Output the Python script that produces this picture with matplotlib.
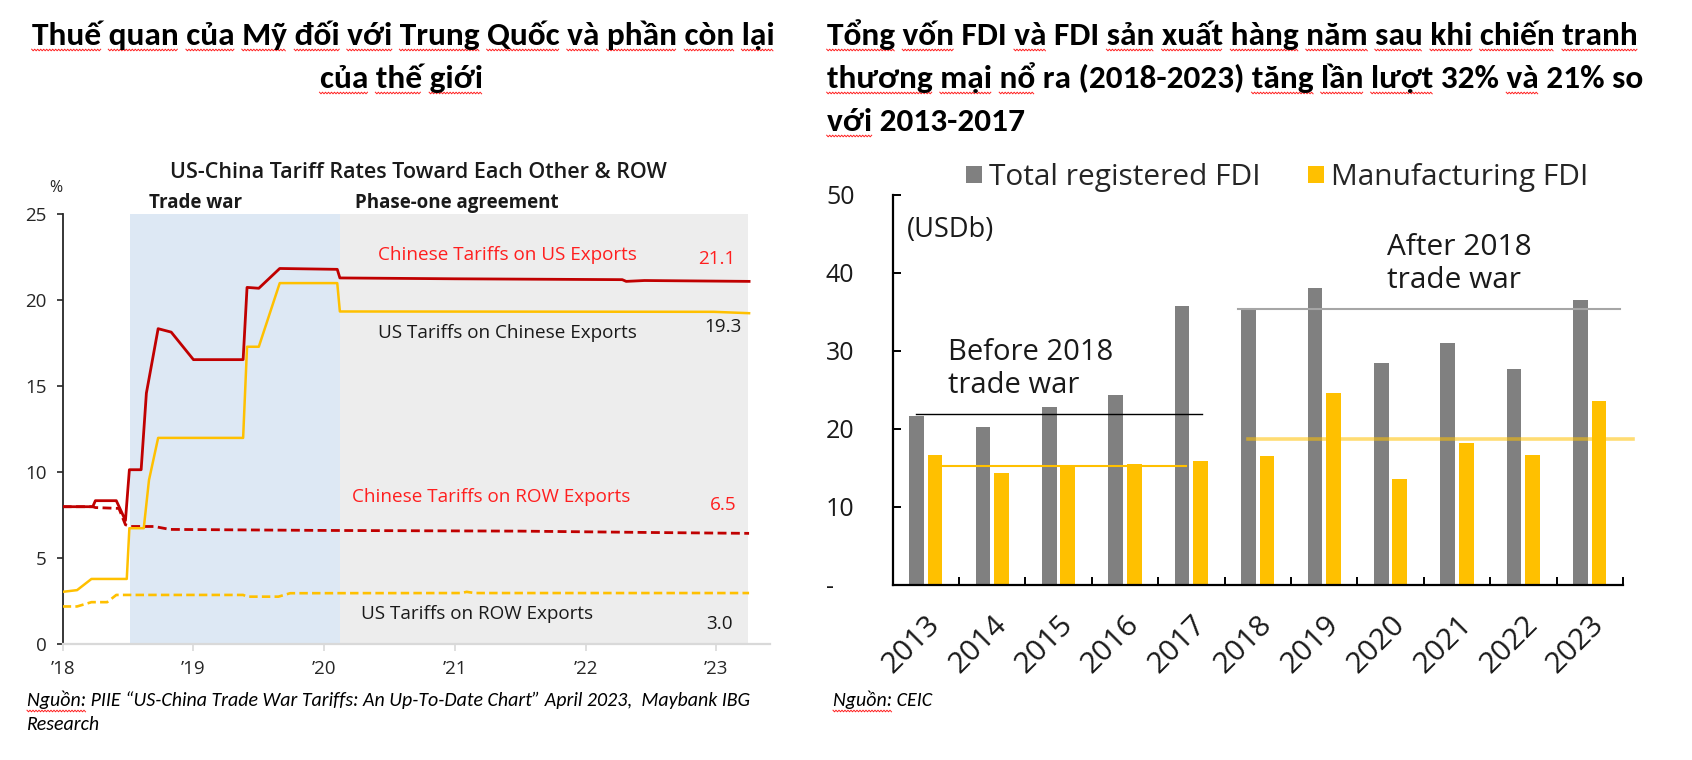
import matplotlib
matplotlib.use("Agg")
import matplotlib.pyplot as plt
from matplotlib.font_manager import FontProperties
from matplotlib.lines import Line2D
import numpy as np

# ---- left chart data (PIIE tariff rates, %) ----
cn_us_t = [2018.00, 2018.23, 2018.25, 2018.41, 2018.48, 2018.51, 2018.60, 2018.64, 2018.73, 2018.83,
           2019.00, 2019.38, 2019.41, 2019.50, 2019.66, 2020.10, 2020.12, 2021.00, 2022.28, 2022.31,
           2022.45, 2023.25]
cn_us = [8.0, 8.0, 8.35, 8.35, 7.2, 10.15, 10.15, 14.6, 18.35, 18.15,
         16.55, 16.55, 20.75, 20.7, 21.85, 21.8, 21.3, 21.25, 21.2, 21.1,
         21.15, 21.1]

cn_row_t = [2018.00, 2018.23, 2018.25, 2018.43, 2018.48, 2018.52, 2018.70, 2018.82, 2020.00, 2021.50,
            2022.50, 2023.25]
cn_row = [8.0, 8.0, 7.95, 7.9, 6.95, 6.85, 6.85, 6.68, 6.62, 6.58, 6.5, 6.45]

us_cn_t = [2018.00, 2018.11, 2018.22, 2018.49, 2018.51, 2018.62, 2018.66, 2018.73, 2019.38, 2019.41,
           2019.50, 2019.66, 2020.10, 2020.12, 2022.98, 2023.25]
us_cn = [3.05, 3.15, 3.8, 3.8, 6.75, 6.75, 9.55, 12.0, 12.0, 17.3,
         17.3, 21.0, 21.0, 19.35, 19.33, 19.25]

us_row_t = [2018.00, 2018.11, 2018.22, 2018.34, 2018.41, 2019.38, 2019.41, 2019.65, 2019.74, 2021.05,
            2021.09, 2021.15, 2023.25]
us_row = [2.2, 2.2, 2.45, 2.45, 2.87, 2.87, 2.77, 2.77, 2.97, 2.98, 3.05, 2.98, 2.98]

trade_war = (2018.515, 2020.12)
phase_one = (2020.12, 2023.245)
year_ticks = [2018, 2019, 2020, 2021, 2022, 2023]
year_labels = ["\u201918", "\u201919", "\u201920", "\u201921", "\u201922", "\u201923"]

# ---- right chart data (CEIC, USD bn) ----
fdi_years = ["2013", "2014", "2015", "2016", "2017", "2018", "2019", "2020", "2021", "2022", "2023"]
total_fdi = [21.7, 20.25, 22.8, 24.4, 35.8, 35.3, 38.1, 28.5, 31.0, 27.65, 36.6]
manuf_fdi = [16.7, 14.4, 15.2, 15.5, 15.9, 16.5, 24.6, 13.6, 18.2, 16.7, 23.6]
before_total, after_total = 21.9, 35.35
before_manuf, after_manuf = 15.26, 18.66

W, H = 1692, 760
def fx(p):
    return p / W
def fy(p):
    return 1 - p / H

TITLE = ["Carlito", "DejaVu Sans"]
CHART = ["Open Sans", "DejaVu Sans"]
RED = "#C00000"
LRED = "#FF1F1F"
YEL = "#FFC000"
DARK = "#1A1A1A"

fig = plt.figure(figsize=(16.92, 7.6), dpi=100)
renderer = fig.canvas.get_renderer()


def text_w(s, prop):
    w, h, d = renderer.get_text_width_height_descent(s, prop, ismath=False)
    return w


def spell_line(x, base, s, prop, ha="left", skip=()):
    # text line plus the red spell-check squiggles seen in the screenshot
    fig.text(fx(x), fy(base), s, ha=ha, va="baseline", fontproperties=prop, color="black")
    x0 = x - text_w(s, prop) / 2 if ha == "center" else x
    words = s.split(" ")
    for i, wd in enumerate(words):
        if not wd or wd in skip:
            continue
        head = " ".join(words[:i + 1])
        e = x0 + text_w(head, prop)
        b = e - text_w(wd, prop)
        xs = np.arange(b, e + 0.1, 1.5)
        ys = base + 5 + np.where(np.arange(len(xs)) % 2 == 0, -0.8, 0.8)
        fig.add_artist(Line2D(fx(xs), fy(ys), color="#FF2020", lw=0.7))


tprop = FontProperties(family=TITLE, size=24, weight="bold")
spell_line(403, 45, "Thuế quan của Mỹ đối với Trung Quốc và phần còn lại", tprop, ha="center")
spell_line(401, 88, "của thế giới", tprop, ha="center")
spell_line(826.7, 45, "Tổng vốn FDI và FDI sản xuất hàng năm sau khi chiến tranh", tprop, skip=("FDI",))
spell_line(826.7, 88, "thương mại nổ ra (2018-2023) tăng lần lượt 32% và 21% so", tprop,
           skip=("ra", "(2018-2023)", "32%", "21%", "so"))
spell_line(826.7, 131, "với 2013-2017", tprop, skip=("2013-2017",))

# ---------------- left chart ----------------
ax1 = fig.add_axes([fx(62.7), fy(644.3), (770 - 62.7) / W, 430 / H])
ax1.set_xlim(2018, 2023.41)
ax1.set_ylim(0, 25)
ax1.axvspan(*trade_war, color="#DDE8F4", lw=0, zorder=0)
ax1.axvspan(*phase_one, color="#EDEDED", lw=0, zorder=0)

ax1.plot(us_row_t, us_row, color=YEL, lw=1.9, dashes=(3.2, 1.6), zorder=3)
ax1.plot(cn_row_t, cn_row, color=RED, lw=2.0, dashes=(3.2, 1.6), zorder=3)
ax1.plot(us_cn_t, us_cn, color=YEL, lw=1.8, zorder=4)
ax1.plot(cn_us_t, cn_us, color=RED, lw=2.0, zorder=5)

lab = dict(ha="center", va="center", fontsize=13.6, family=CHART)
ax1.text(2021.40, 22.63, "Chinese Tariffs on US Exports", color=LRED, **lab)
ax1.text(2023.00, 22.40, "21.1", color=LRED, **lab)
ax1.text(2021.40, 18.10, "US Tariffs on Chinese Exports", color=DARK, **lab)
ax1.text(2023.05, 18.45, "19.3", color=DARK, **lab)
ax1.text(2021.28, 8.58, "Chinese Tariffs on ROW Exports", color=LRED, **lab)
ax1.text(2023.05, 8.10, "6.5", color=LRED, **lab)
ax1.text(2021.17, 1.76, "US Tariffs on ROW Exports", color=DARK, **lab)
ax1.text(2023.02, 1.19, "3.0", color=DARK, **lab)

for s in ("top", "right"):
    ax1.spines[s].set_visible(False)
ax1.spines["bottom"].set_color("#D9D9D9")
ax1.spines["bottom"].set_linewidth(1.6)
ax1.spines["left"].set_color("#262626")
ax1.spines["left"].set_linewidth(1.3)
ax1.set_yticks(range(0, 26, 5))
ax1.set_xticks(year_ticks)
ax1.set_xticklabels(year_labels)
ax1.tick_params(axis="y", direction="out", length=4.5, width=1.2, color="#262626", pad=7,
                labelsize=13.5, labelcolor="#262626")
ax1.tick_params(axis="x", direction="out", length=5, width=1.2, color="#D9D9D9", pad=6,
                labelsize=13.5, labelcolor="#262626")
for t in ax1.get_xticklabels() + ax1.get_yticklabels():
    t.set_family(CHART)

fig.text(fx(418), fy(178.3), "US-China Tariff Rates Toward Each Other & ROW", ha="center", va="baseline",
         fontsize=15.5, weight="semibold", family=CHART, color="#1A1A1A")
fig.text(fx(56), fy(192), "%", ha="center", va="baseline", fontsize=11.5, family=CHART, color="#262626")
fig.text(fx(149), fy(208), "Trade war", ha="left", va="baseline", fontsize=13.5, weight="bold",
         family=CHART, color="#1A1A1A")
fig.text(fx(355), fy(208), "Phase-one agreement", ha="left", va="baseline", fontsize=13.5, weight="bold",
         family=CHART, color="#1A1A1A")

# ---------------- right chart ----------------
ax2 = fig.add_axes([fx(892.5), fy(585), 730.4 / W, 390 / H])
x = np.arange(len(fdi_years))
b1 = ax2.bar(x - 0.14, total_fdi, 0.22, color="#808080", zorder=2, label="Total registered FDI")
b2 = ax2.bar(x + 0.14, manuf_fdi, 0.22, color=YEL, zorder=2, label="Manufacturing FDI")
ax2.set_xlim(-0.5, len(fdi_years) - 0.5)
ax2.set_ylim(0, 50)

ax2.plot([-0.146, 4.157], [before_total] * 2, color="black", lw=1.0, zorder=4)
ax2.plot([0.218, 3.92], [before_manuf] * 2, color=YEL, lw=1.5, zorder=4)
ax2.plot([4.70, 10.46], [after_total] * 2, color="#A6A6A6", lw=1.5, zorder=4)
ax2.plot([4.85, 10.65], [after_manuf] * 2, color=YEL, lw=2.6, alpha=0.55, zorder=4, clip_on=False)

for s in ("top", "right"):
    ax2.spines[s].set_visible(False)
for s in ("left", "bottom"):
    ax2.spines[s].set_linewidth(1.6)
    ax2.spines[s].set_color("black")

ax2.set_yticks(range(0, 51, 10))
ax2.set_yticklabels(["-"] + [str(v) for v in range(10, 51, 10)])
ax2.tick_params(axis="y", direction="in", length=5.5, width=1.4, pad=47.9, labelsize=18, labelcolor=DARK)
for t in ax2.get_yticklabels():
    t.set_ha("left")
    t.set_family(CHART)

ax2.set_xticks(np.arange(-0.5, len(fdi_years), 1.0))
ax2.set_xticklabels([])
ax2.tick_params(axis="x", which="major", direction="in", length=5.5, width=1.4)
ax2.set_xticks(x, minor=True)
ax2.set_xticklabels(fdi_years, minor=True, rotation=45, ha="right", va="top", rotation_mode="anchor")
ax2.tick_params(axis="x", which="minor", length=0, pad=18, labelsize=21.5, labelcolor=DARK)
for t in ax2.get_xticklabels(minor=True):
    t.set_family(CHART)

leg = ax2.legend(handles=[b1, b2], loc="center left", bbox_to_anchor=(fx(966), fy(177.5)),
                 bbox_transform=fig.transFigure, ncol=2, frameon=False,
                 handlelength=0.52, handleheight=0.52, handletextpad=0.25, columnspacing=1.6,
                 borderpad=0, borderaxespad=0, prop={"family": CHART, "size": 21.5})
for t in leg.get_texts():
    t.set_color("#262626")

fig.text(fx(906.6), fy(230), "(USDb)", ha="left", va="center", fontsize=19.5, family=CHART, color=DARK)
fig.text(fx(947.5), fy(360), "Before 2018", ha="left", va="baseline", fontsize=21, family=CHART, color=DARK)
fig.text(fx(947.5), fy(393.3), "trade war", ha="left", va="baseline", fontsize=21, family=CHART, color=DARK)
fig.text(fx(1386.7), fy(255), "After 2018", ha="left", va="baseline", fontsize=21.5, family=CHART, color=DARK)
fig.text(fx(1386.7), fy(288.3), "trade war", ha="left", va="baseline", fontsize=21.5, family=CHART, color=DARK)

# sources
sprop = FontProperties(family=TITLE, size=14.3, style="italic")
spell_line(27, 706, "Nguồn: PIIE \u201cUS-China Trade War Tariffs: An Up-To-Date Chart\u201d April 2023,  Maybank IBG",
           sprop, skip=("PIIE", "\u201cUS-China", "Trade", "War", "Tariffs:", "An", "Up-To-Date", "Chart\u201d",
                        "April", "2023,", "Maybank", "IBG"))
fig.text(fx(27), fy(730), "Research", ha="left", va="baseline", fontproperties=sprop, color="black")
spell_line(833, 706, "Nguồn: CEIC", sprop, skip=("CEIC",))

fig.savefig("out.png", dpi=100)
